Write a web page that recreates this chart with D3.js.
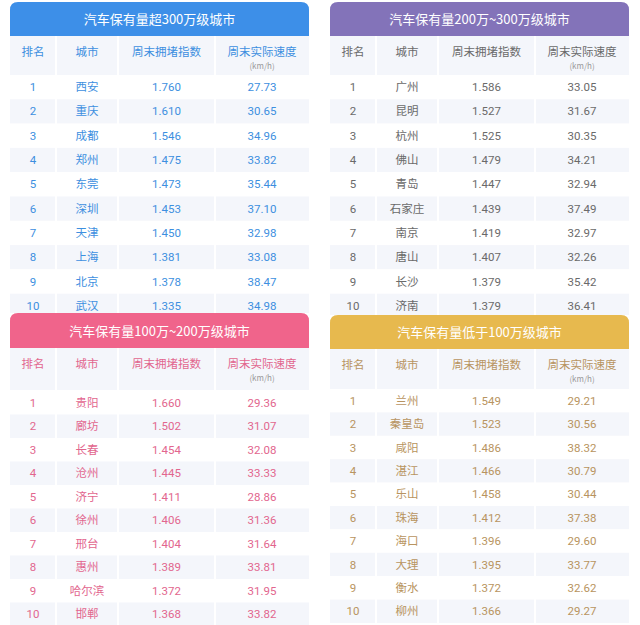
<!DOCTYPE html>
<html><head><meta charset="utf-8">
<script src="https://cdn.jsdelivr.net/npm/d3@7"></script>
<style>body{margin:0;background:#fff;font-family:"Noto Sans CJK SC",sans-serif}</style>
</head><body><svg id="c" width="640" height="625"></svg>
<script>
// data for the four tables
var titles = ["汽车保有量超300万级城市", "汽车保有量200万~300万级城市", "汽车保有量100万~200万级城市", "汽车保有量低于100万级城市"];
var colHeads = ["排名", "城市", "周末拥堵指数", "周末实际速度"];
var ranks = [1, 2, 3, 4, 5, 6, 7, 8, 9, 10];
var cities1 = ["西安", "重庆", "成都", "郑州", "东莞", "深圳", "天津", "上海", "北京", "武汉"];
var index1 = [1.760, 1.610, 1.546, 1.475, 1.473, 1.453, 1.450, 1.381, 1.378, 1.335];
var speed1 = [27.73, 30.65, 34.96, 33.82, 35.44, 37.10, 32.98, 33.08, 38.47, 34.98];
var cities2 = ["广州", "昆明", "杭州", "佛山", "青岛", "石家庄", "南京", "唐山", "长沙", "济南"];
var index2 = [1.586, 1.527, 1.525, 1.479, 1.447, 1.439, 1.419, 1.407, 1.379, 1.379];
var speed2 = [33.05, 31.67, 30.35, 34.21, 32.94, 37.49, 32.97, 32.26, 35.42, 36.41];
var cities3 = ["贵阳", "廊坊", "长春", "沧州", "济宁", "徐州", "邢台", "惠州", "哈尔滨", "邯郸"];
var index3 = [1.660, 1.502, 1.454, 1.445, 1.411, 1.406, 1.404, 1.389, 1.372, 1.368];
var speed3 = [29.36, 31.07, 32.08, 33.33, 28.86, 31.36, 31.64, 33.81, 31.95, 33.82];
var cities4 = ["兰州", "秦皇岛", "咸阳", "湛江", "乐山", "珠海", "海口", "大理", "衡水", "柳州"];
var index4 = [1.549, 1.523, 1.486, 1.466, 1.458, 1.412, 1.396, 1.395, 1.372, 1.366];
var speed4 = [29.21, 30.56, 38.32, 30.79, 30.44, 37.38, 29.60, 33.77, 32.62, 29.27];

var panels = [
  {x: 10, y: 2, hh: 34, ch: 39, rowTop: 75, rowH: 24.3, head: "#3d8fe8", text: "#3d8fe0", cities: cities1, idx: index1, spd: speed1},
  {x: 330, y: 2, hh: 34, ch: 39, rowTop: 75, rowH: 24.3, head: "#8373b9", text: "#6a6a6a", cities: cities2, idx: index2, spd: speed2},
  {x: 10, y: 313, hh: 35, ch: 42, rowTop: 391, rowH: 23.5, head: "#f0648b", text: "#e2668e", cities: cities3, idx: index3, spd: speed3},
  {x: 330, y: 315, hh: 34, ch: 40, rowTop: 389, rowH: 23.4, head: "#e7b94e", text: "#b89460", cities: cities4, idx: index4, spd: speed4}
];

var svg = d3.select("#c");
var W = 299;
var colX = [0, 46, 108, 205, W]; // column edges within a panel

panels.forEach(function (p, pi) {
  var g = svg.append("g").attr("transform", "translate(" + p.x + "," + p.y + ")");
  var y = d3.scaleBand().domain(ranks).range([p.rowTop - p.y, p.rowTop - p.y + p.rowH * 10]);
  var bottom = p.rowTop - p.y + p.rowH * 10;

  g.append("rect").attr("width", W).attr("height", bottom).attr("fill", "#fff");
  // column header band
  g.append("rect").attr("y", p.hh).attr("width", W).attr("height", p.ch).attr("fill", "#f4f6fb");
  // striped rows
  g.selectAll("rect.row").data(ranks).join("rect").attr("class", "row")
    .attr("y", function (d) { return y(d); }).attr("width", W).attr("height", y.bandwidth())
    .attr("fill", function (d) { return d % 2 ? "#fff" : "#f4f6fb"; });
  // column dividers
  g.selectAll("line.col").data(colX.slice(1, 4)).join("line").attr("class", "col")
    .attr("x1", function (d) { return d; }).attr("x2", function (d) { return d; })
    .attr("y1", p.hh).attr("y2", bottom).attr("stroke", "#fff").attr("stroke-width", 2);
  // header with rounded top
  var r = 8;
  g.append("path").attr("fill", p.head)
    .attr("d", "M0," + p.hh + "V" + r + "Q0,0 " + r + ",0H" + (W - r) + "Q" + W + ",0 " + W + "," + r + "V" + p.hh + "Z");
  g.append("text").attr("x", W / 2).attr("y", p.hh / 2 + 5).attr("text-anchor", "middle")
    .attr("fill", "#fff").attr("font-size", 13).text(titles[pi]);

  var cx = colX.slice(0, 4).map(function (d, i) { return (d + colX[i + 1]) / 2; });
  g.selectAll("text.ch").data(colHeads).join("text").attr("class", "ch")
    .attr("x", function (d, i) { return cx[i]; }).attr("y", p.hh + 20)
    .attr("text-anchor", "middle").attr("font-size", 11.5).attr("fill", p.text).text(function (d) { return d; });
  g.append("text").attr("x", cx[3]).attr("y", p.hh + 33).attr("text-anchor", "middle")
    .attr("font-size", 8).attr("fill", "#999").text("(km/h)");

  ranks.forEach(function (rk, i) {
    var vals = [rk, p.cities[i], p.idx[i].toFixed(3), p.spd[i].toFixed(2)];
    g.selectAll("text.r" + i).data(vals).join("text")
      .attr("x", function (d, j) { return cx[j]; })
      .attr("y", y(rk) + y.bandwidth() / 2 + 4)
      .attr("text-anchor", "middle").attr("font-size", 11.5)
      .attr("font-family", function (d, j) { return j === 1 ? "Noto Sans CJK SC" : "Roboto, sans-serif"; })
      .attr("fill", p.text).text(function (d) { return d; });
  });
});
</script></body></html>
